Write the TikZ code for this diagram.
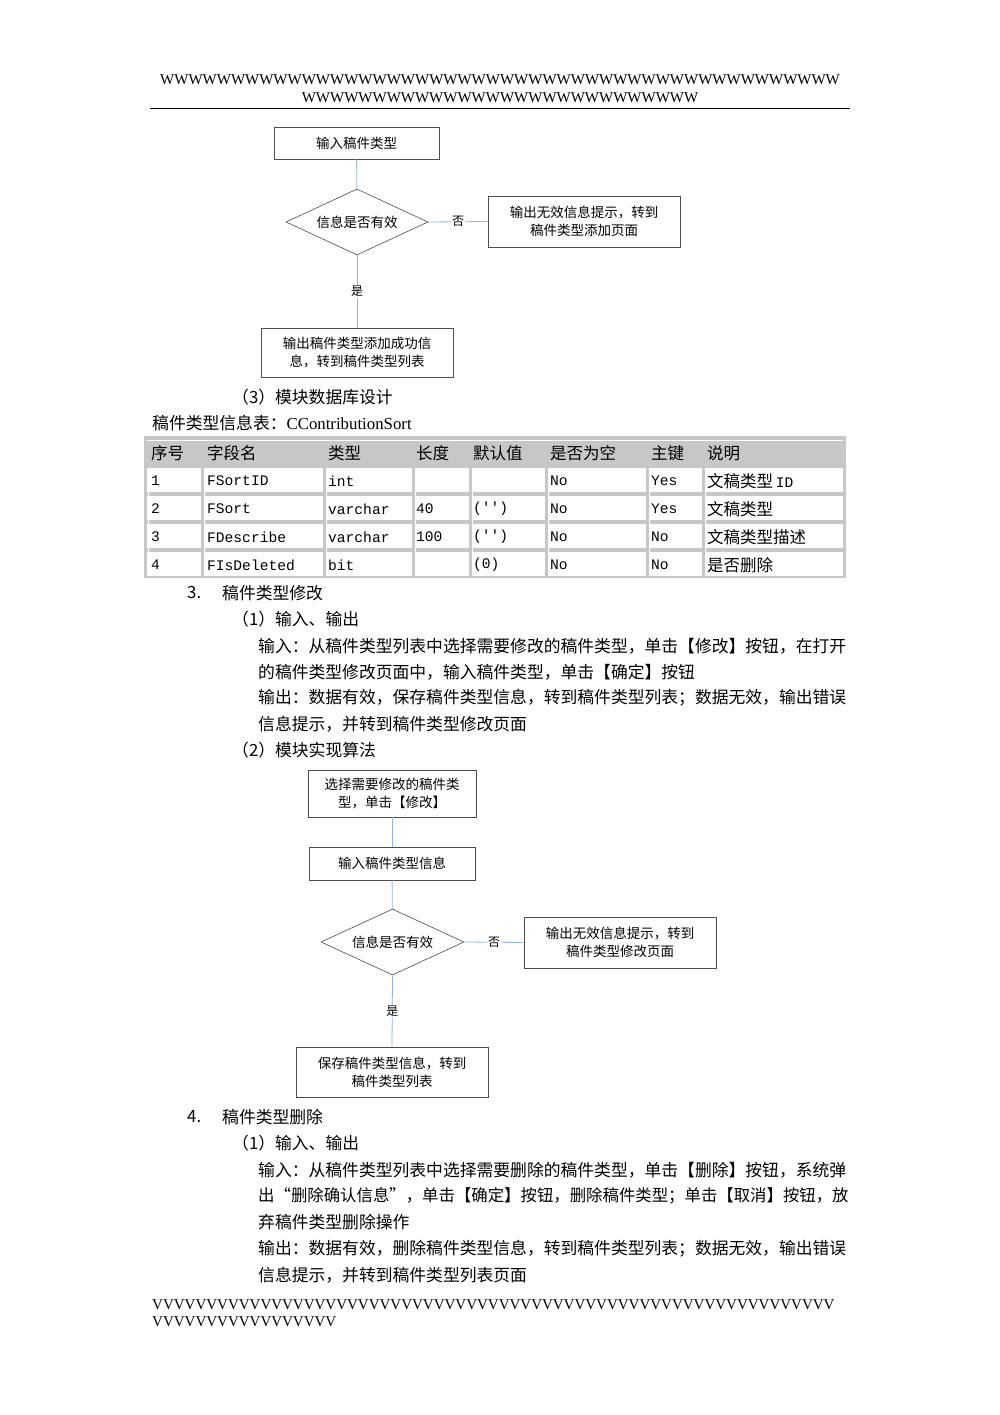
\documentclass[tikz,border=0pt]{standalone}
\usepackage{fontspec}
\setmainfont{Liberation Serif}
\newfontfamily\cjk{Noto Sans CJK SC}
\newfontfamily\mono{Liberation Mono}
\usetikzlibrary{shapes.geometric}
\definecolor{connc}{RGB}{150,180,215}
\begin{document}
\begin{tikzpicture}[x=1pt,y=-1pt,
  fbox/.style={draw=black!70,line width=0.6pt,font=\cjk\fontsize{13.5}{18}\selectfont,align=center,inner sep=0pt},
  dia/.style={draw=black!70,line width=0.6pt,diamond,aspect=2.15,font=\cjk\fontsize{13.5}{18}\selectfont,inner sep=0pt},
  conn/.style={draw=connc,line width=0.8pt},
  lbl/.style={font=\cjk\fontsize{12}{14}\selectfont,fill=white,inner sep=1pt},
  body/.style={anchor=west,font=\cjk\fontsize{16.8}{20}\selectfont,inner sep=0pt},
  cell/.style={anchor=west,font=\cjk\fontsize{16.5}{20}\selectfont,inner sep=0pt},
  mc/.style={anchor=west,font=\mono\fontsize{14.6}{18}\selectfont,inner sep=0pt}]
\useasboundingbox (0,0) rectangle (1000,1415);
\fill[white] (0,0) rectangle (1000,1415);
% header
\node[font=\fontsize{15}{18}\selectfont,inner sep=0pt] (h1) at (500,80) {WWWWWWWWWWWWWWWWWWWWWWWWWWWWWWWWWWWWWWWWWWWWWWWW};
\node[font=\fontsize{15}{18}\selectfont,inner sep=0pt] (h2) at (500,98) {WWWWWWWWWWWWWWWWWWWWWWWWWWWW};
\draw[line width=0.8pt] (150,108) -- (850,108);
% flowchart 1
\node[fbox,minimum width=165,minimum height=32] (a1) at (356.5,143) {输入稿件类型};
\node[dia,minimum width=142,minimum height=66] (d1) at (357,222) {信息是否有效};
\node[fbox,minimum width=192,minimum height=51] (r1) at (584,221.5) {输出无效信息提示，转到\\稿件类型添加页面};
\node[fbox,minimum width=192,minimum height=49] (b1) at (357,352.5) {输出稿件类型添加成功信\\息，转到稿件类型列表};
\draw[conn] (a1) -- (d1);
\draw[conn] (d1.east) -- (r1.west) node[lbl,pos=0.5] (n1) {否};
\draw[conn] (d1.south) -- (b1.north) node[lbl,pos=0.5] (y1) {是};
% texts
\node[body] (t1) at (232,397) {（3）模块数据库设计};
\node[body] (t2) at (152,423) {稿件类型信息表：\fontspec{Liberation Serif}CContributionSort};
% table
\fill[black!22] (144,436) rectangle (846,578);
\fill[black!22] (147,440) rectangle (843,466);
\foreach \y in {468,496,524,552}{
  \fill[white] (147,\y) rectangle (843,\y+24);}
\foreach \x in {201,323,412,469,545,646,702}{
  \fill[black!22] (\x,468) rectangle (\x+3,576);}
\foreach \x in {148,204,326,415,472,548,649,705}{\draw[white,line width=1pt] (\x,468) -- (\x,576);}
\draw[white,line width=1pt] (147,440) -- (843,440);
\node[cell] at (151,453) {序号};
\node[cell] at (207,453) {字段名};
\node[cell] at (328,453) {类型};
\node[cell] at (416,453) {长度};
\node[cell] at (473,453) {默认值};
\node[cell] at (550,453) {是否为空};
\node[cell] at (651,453) {主键};
\node[cell] at (707,453) {说明};
\node[mc] at (151,481) {1};\node[mc] at (207,481) {FSortID};\node[mc] at (328,481) {int};\node[mc] at (550,481) {No};\node[mc] at (651,481) {Yes};\node[cell] at (707,481) {文稿类型\,\mono\fontsize{14.6}{18}\selectfont ID};
\node[mc] at (151,509) {2};\node[mc] at (207,509) {FSort};\node[mc] at (328,509) {varchar};\node[mc] at (416,509) {40};\node[mc] at (473,509) {('')};\node[mc] at (550,509) {No};\node[mc] at (651,509) {Yes};\node[cell] at (707,509) {文稿类型};
\node[mc] at (151,537) {3};\node[mc] at (207,537) {FDescribe};\node[mc] at (328,537) {varchar};\node[mc] at (416,537) {100};\node[mc] at (473,537) {('')};\node[mc] at (550,537) {No};\node[mc] at (651,537) {No};\node[cell] at (707,537) {文稿类型描述};
\node[mc] at (151,565) {4};\node[mc] at (207,565) {FIsDeleted};\node[mc] at (328,565) {bit};\node[mc] at (473,565) {(0)};\node[mc] at (550,565) {No};\node[mc] at (651,565) {No};\node[cell] at (707,565) {是否删除};
% section 3
\node[body] (s3) at (187,593) {3.};
\node[body] (s3t) at (222,593) {稿件类型修改};
\node[body] at (232,619) {（1）输入、输出};
\node[body] at (258,646) {输入：从稿件类型列表中选择需要修改的稿件类型，单击【修改】按钮，在打开};
\node[body] at (258,672) {的稿件类型修改页面中，输入稿件类型，单击【确定】按钮};
\node[body] at (258,698) {输出：数据有效，保存稿件类型信息，转到稿件类型列表；数据无效，输出错误};
\node[body] at (258,724) {信息提示，并转到稿件类型修改页面};
\node[body] at (232,750) {（2）模块实现算法};
% flowchart 2
\node[fbox,minimum width=168,minimum height=47] (a2) at (392,793.5) {选择需要修改的稿件类\\型，单击【修改】};
\node[fbox,minimum width=166,minimum height=33] (c2) at (392,863.5) {输入稿件类型信息};
\node[dia,minimum width=143,minimum height=66] (d2) at (392.5,942) {信息是否有效};
\node[fbox,minimum width=192,minimum height=51] (r2) at (620,942.5) {输出无效信息提示，转到\\稿件类型修改页面};
\node[fbox,minimum width=192,minimum height=50] (b2) at (392,1072) {保存稿件类型信息，转到\\稿件类型列表};
\draw[conn] (a2) -- (c2);
\draw[conn] (c2) -- (d2);
\draw[conn] (d2.east) -- (r2.west) node[lbl,pos=0.5] (n2) {否};
\draw[conn] (d2.south) -- (b2.north) node[lbl,pos=0.5] (y2) {是};
% section 4
\node[body] at (187,1117) {4.};
\node[body] at (222,1117) {稿件类型删除};
\node[body] at (232,1143) {（1）输入、输出};
\node[body] at (258,1170) {输入：从稿件类型列表中选择需要删除的稿件类型，单击【删除】按钮，系统弹};
\node[body,font=\cjk\fontsize{16.4}{20}\selectfont] at (258,1196) {出“删除确认信息”，单击【确定】按钮，删除稿件类型；单击【取消】按钮，放};
\node[body] at (258,1222) {弃稿件类型删除操作};
\node[body] at (258,1249) {输出：数据有效，删除稿件类型信息，转到稿件类型列表；数据无效，输出错误};
\node[body] at (258,1275) {信息提示，并转到稿件类型列表页面};
% footer
\node[anchor=west,font=\fontsize{15}{18}\selectfont,inner sep=0pt] (f1) at (152,1305) {VVVVVVVVVVVVVVVVVVVVVVVVVVVVVVVVVVVVVVVVVVVVVVVVVVVVVVVVVVVVVVV};
\node[anchor=west,font=\fontsize{15}{18}\selectfont,inner sep=0pt] (f2) at (152,1322) {VVVVVVVVVVVVVVVVV};
\end{tikzpicture}
\end{document}
